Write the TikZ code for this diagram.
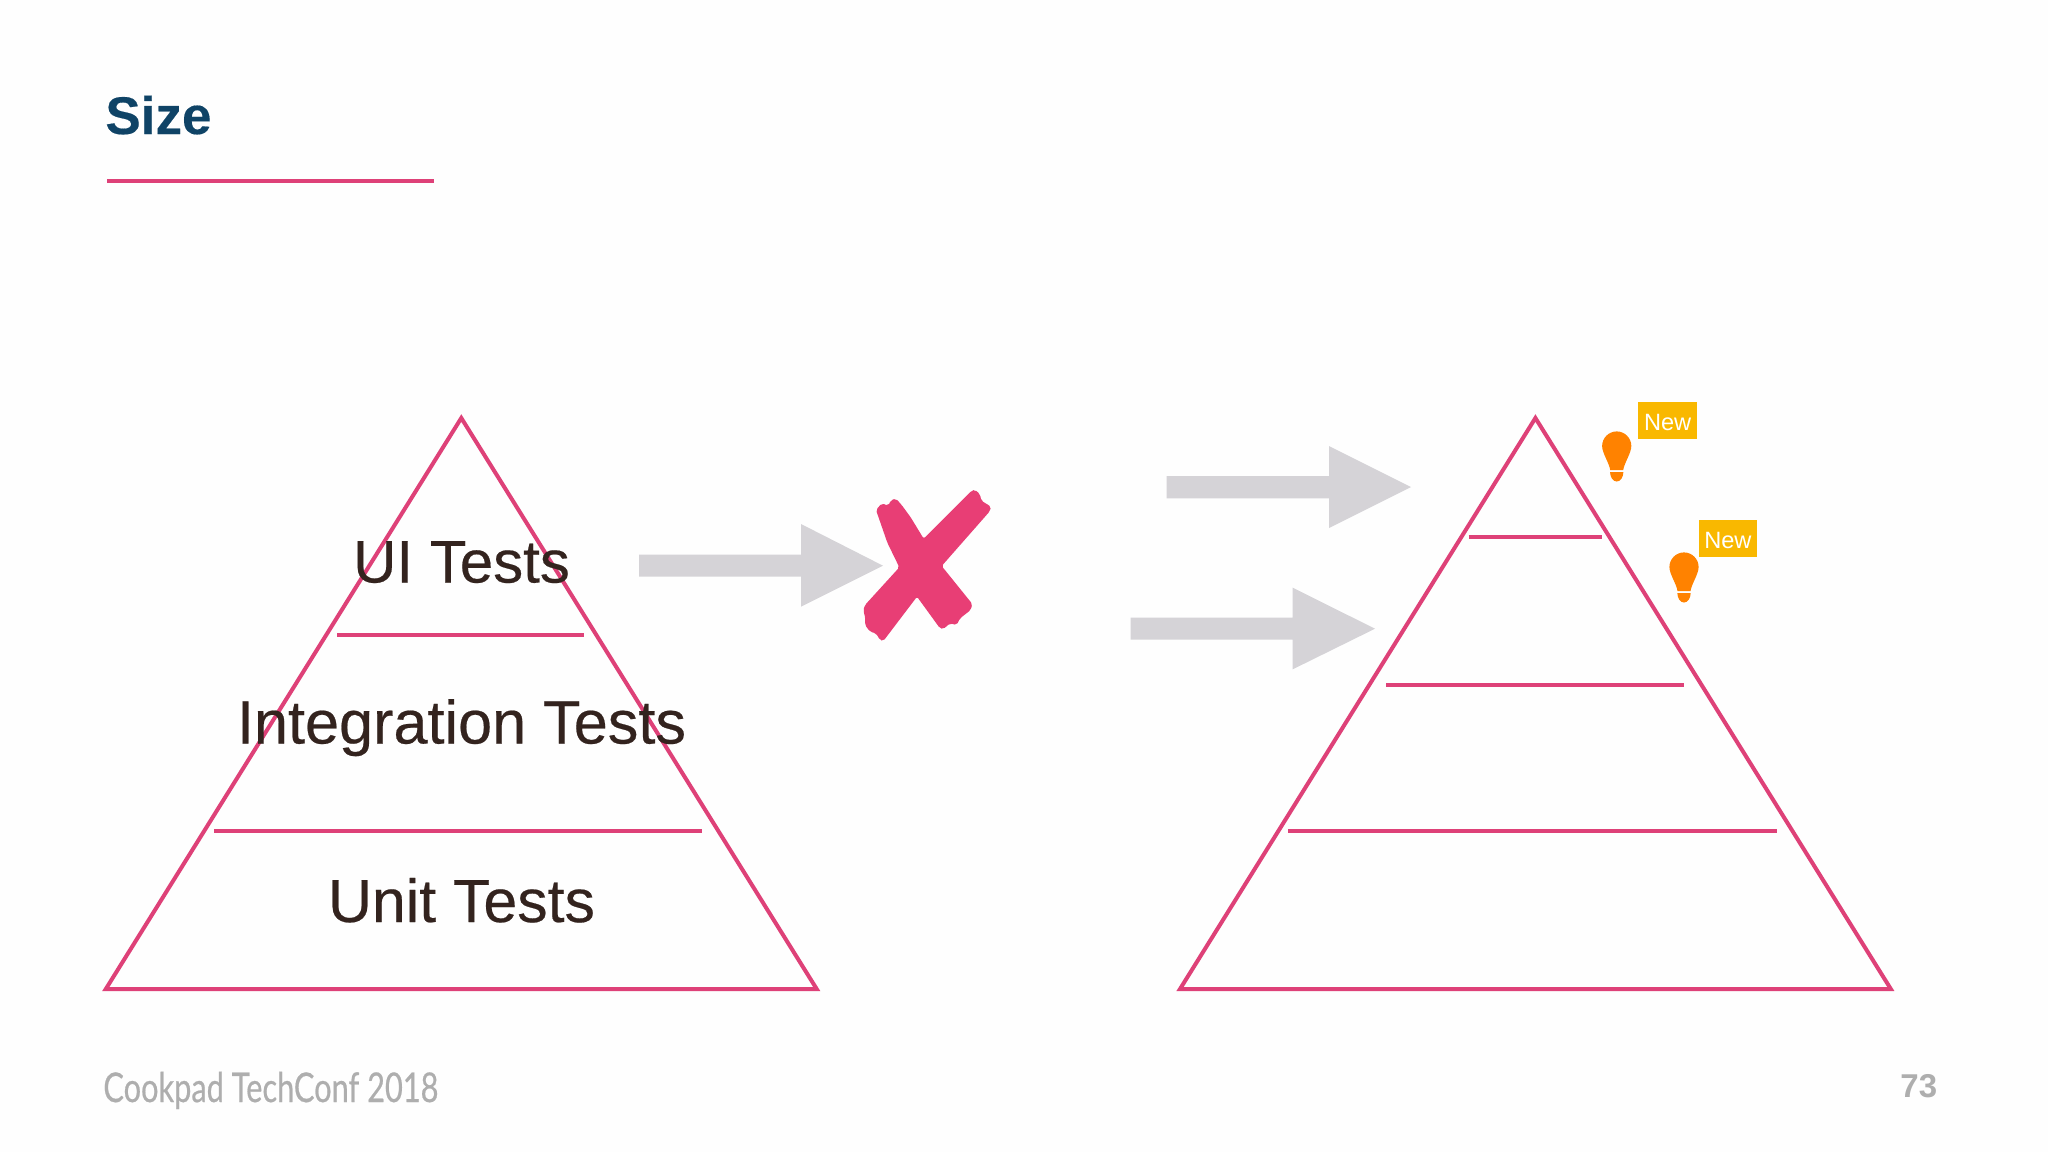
\documentclass[tikz,border=0pt]{standalone}
\usepackage{fontspec}
\setmainfont{Liberation Sans}
\newfontfamily\footfont[FakeStretch=0.75,FakeBold=0.5]{Lato}
\newfontfamily\labelfont[FakeBold=0.35]{Liberation Sans}
\newfontfamily\titlefont[FakeBold=0.3]{Liberation Sans Bold}
\definecolor{pinkline}{HTML}{DE4178}
\definecolor{crosspink}{HTML}{E83E75}
\definecolor{arrowgrey}{HTML}{D5D3D7}
\definecolor{titleblue}{HTML}{0F4366}
\definecolor{labeldark}{HTML}{33231E}
\definecolor{bulborange}{HTML}{FF8200}
\definecolor{newyellow}{HTML}{F9B800}
\definecolor{footgrey}{HTML}{AEAEAE}
\definecolor{pagebg}{HTML}{FEFEFE}
\tikzset{
  pyramid/.style={draw=pinkline,line width=2pt,miter limit=10,join=miter},
  tierline/.style={draw=pinkline,line width=2pt},
  greyarrow/.style={fill=arrowgrey},
  tierlabel/.style={inner sep=0pt,anchor=base,text=labeldark,font=\labelfont\fontsize{30}{36}\selectfont},
  newtag/.style={fill=newyellow,text=white,inner sep=0pt,minimum width=29.2pt,minimum height=18.3pt,anchor=north west,font=\fontsize{11.8}{14}\selectfont},
  bulb/.pic={
    \fill[bulborange] (-14.6,0) .. controls (-14.6,-8) and (-8,-14.6) .. (0,-14.6)
      .. controls (8,-14.6) and (14.6,-8) .. (14.6,0)
      .. controls (14.6,7) and (7.5,17) .. (6.5,24) -- (-6.5,24)
      .. controls (-7.5,17) and (-14.6,7) .. (-14.6,0) -- cycle;
    \fill[bulborange] (-6.7,26) -- (6.7,26) .. controls (6.5,31) and (4,35.5) .. (0,35.5)
      .. controls (-4,35.5) and (-6.5,31) .. (-6.7,26) -- cycle;
  }
}
\begin{document}
\begin{tikzpicture}[x=0.5pt,y=-0.5pt]
\useasboundingbox (0,0) rectangle (2048,1152);
\fill[pagebg] (0,0) rectangle (2048,1152);
% title
\node[inner sep=0pt,anchor=base west,text=titleblue,font=\titlefont\fontsize{26.5}{30}\selectfont] (title) at (105,134) {Size};
\fill[pinkline] (106.7,178.6) rectangle (434,182.8);
% left pyramid
\draw[pyramid] (461.3,418) -- (816.7,989) -- (105.8,989) -- cycle;
\draw[tierline] (337,635) -- (584,635);
\draw[tierline] (214,831) -- (702,831);
\node[tierlabel] (ui) at (461.5,582.5) {UI Tests};
\node[tierlabel,font=\labelfont\fontsize{30.6}{36}\selectfont] (integration) at (461.5,743.5) {Integration Tests};
\node[tierlabel,font=\labelfont\fontsize{30.4}{36}\selectfont] (unit) at (461.5,922) {Unit Tests};
% arrows
\fill[greyarrow] (639,554.7) -- (801,554.7) -- (801,524) -- (883,565.7) -- (801,606.7) -- (801,576.7) -- (639,576.7) -- cycle;
\fill[greyarrow] (1166.7,476) -- (1329,476) -- (1329,446) -- (1411,487) -- (1329,528) -- (1329,498.3) -- (1166.7,498.3) -- cycle;
\fill[greyarrow] (1130.7,617.7) -- (1292.7,617.7) -- (1292.7,587.7) -- (1375,628.7) -- (1292.7,669.3) -- (1292.7,639.7) -- (1130.7,639.7) -- cycle;
% cross
\begin{scope}[shift={(820,460)},x=0.16667pt,y=-0.16667pt]
\fill[crosspink,rounded corners=1pt] (168,150) -- (185,130) -- (205,137) -- (213,120) -- (228,116) -- (245,135)
  -- (272,172) -- (311,236) -- (455,92) -- (465,89) -- (480,103) -- (484,122) -- (513,140) -- (510,153)
  -- (365,318) -- (457,432) -- (452,450) -- (420,475) -- (410,495) -- (390,490) -- (370,507) -- (360,505)
  -- (291,410) -- (190,543) -- (180,540) -- (168,520) -- (150,515) -- (135,495) -- (136,475) -- (130,450) -- (135,435)
  -- (238,322) -- (202,248) -- cycle;
\end{scope}
% right pyramid
\draw[pyramid] (1535.4,418) -- (1890.8,989) -- (1180,989) -- cycle;
\draw[tierline] (1468.7,537) -- (1602,537);
\draw[tierline] (1386.4,684.7) -- (1684.3,684.7);
\draw[tierline] (1288.4,831) -- (1777,831);
% bulbs and tags
\pic at (1616.7,446) {bulb};
\pic at (1684,567) {bulb};
\node[newtag] (newa) at (1638,402) {\rule{0pt}{10pt}New};
\node[newtag] (newb) at (1698.3,519.7) {\rule{0pt}{10pt}New};
% footer
\node[inner sep=0pt,anchor=base west,text=footgrey,font=\footfont\fontsize{20.5}{24}\selectfont] (foot) at (103,1102) {Cookpad TechConf 2018};
\node[inner sep=0pt,anchor=base east,text=footgrey,font=\fontsize{16.5}{20}\selectfont\bfseries] (page) at (1937.5,1097) {73};
\end{tikzpicture}
\end{document}
